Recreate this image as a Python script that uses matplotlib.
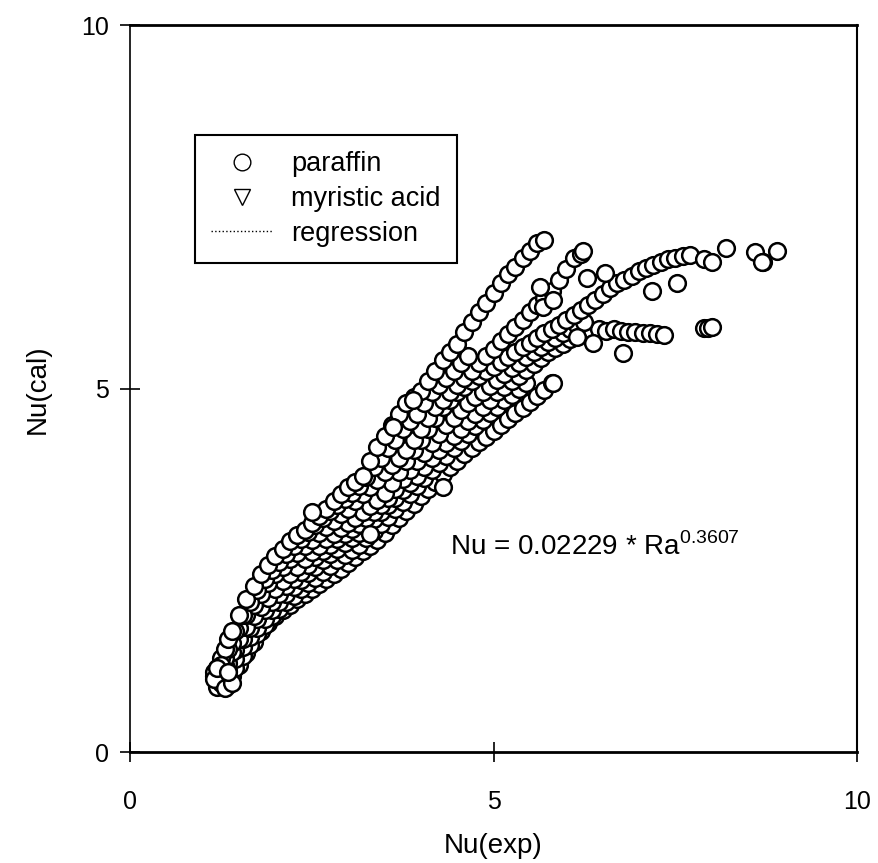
import matplotlib
matplotlib.use('Agg')
import matplotlib.pyplot as plt
from matplotlib.lines import Line2D

plt.rcParams['font.family'] = ['Liberation Sans', 'DejaVu Sans']
plt.rcParams['mathtext.fontset'] = 'custom'
plt.rcParams['mathtext.rm'] = 'Liberation Sans'

# paraffin runs (Nu_exp, Nu_cal)
runA_x = [1.15, 1.2, 1.25, 1.3, 1.35, 1.4, 1.5, 1.6, 1.7, 1.8, 1.9, 2.0, 2.1, 2.2, 2.3, 2.4, 2.5, 2.6, 2.7, 2.8,
          2.9, 3.0, 3.1, 3.2, 3.3, 3.4, 3.5, 3.6, 3.7, 3.8, 3.9, 4.0, 4.1, 4.2, 4.3, 4.4, 4.5, 4.6, 4.7, 4.8,
          4.9, 5.0, 5.1, 5.2, 5.3, 5.4, 5.5, 5.6, 5.7]
runA_y = [1.05, 1.15, 1.3, 1.42, 1.55, 1.66, 1.88, 2.1, 2.28, 2.45, 2.58, 2.7, 2.8, 2.9, 2.98, 3.06, 3.15, 3.25, 3.35, 3.45,
          3.55, 3.65, 3.72, 3.8, 4.0, 4.2, 4.35, 4.5, 4.65, 4.8, 4.88, 4.97, 5.1, 5.25, 5.4, 5.5, 5.62, 5.78, 5.92, 6.06,
          6.18, 6.32, 6.45, 6.58, 6.68, 6.8, 6.9, 7.0, 7.05]

runF_x = [1.25, 1.35, 1.45, 1.55, 1.65, 1.75, 1.85, 1.95, 2.05, 2.15, 2.25, 2.35, 2.45, 2.55, 2.65, 2.75, 2.85, 2.95, 3.05,
          3.15, 3.25, 3.35, 3.45, 3.55, 3.65, 3.75, 3.85, 3.95, 4.05, 4.15, 4.25, 4.35, 4.45, 4.55, 4.65]
runF_y = [1.2, 1.42, 1.66, 1.88, 2.06, 2.23, 2.38, 2.5, 2.62, 2.73, 2.83, 2.93, 3.03, 3.13, 3.22, 3.31, 3.4, 3.48, 3.56,
          3.66, 3.78, 3.92, 4.05, 4.18, 4.3, 4.45, 4.55, 4.65, 4.8, 4.95, 5.05, 5.15, 5.25, 5.35, 5.45]

runB_x = [1.2, 1.3, 1.4, 1.5, 1.6, 1.7, 1.8, 1.9, 2.0, 2.1, 2.2, 2.3, 2.4, 2.5, 2.6, 2.7, 2.8, 2.9, 3.0, 3.1,
          3.2, 3.3, 3.4, 3.5, 3.6, 3.7, 3.8, 3.9, 4.0, 4.1, 4.2, 4.3, 4.4, 4.5, 4.6, 4.7, 4.8, 4.9, 5.0, 5.1,
          5.2, 5.3, 5.4, 5.5, 5.6, 5.7, 5.8, 5.9, 6.0, 6.1, 6.2]
runB_y = [1.1, 1.3, 1.5, 1.7, 1.88, 2.03, 2.18, 2.32, 2.45, 2.55, 2.65, 2.74, 2.83, 2.92, 3.01, 3.1, 3.18, 3.27, 3.35, 3.45,
          3.55, 3.65, 3.75, 3.85, 3.95, 4.05, 4.15, 4.3, 4.45, 4.6, 4.75, 4.85, 4.95, 5.05, 5.15, 5.25, 5.35, 5.45, 5.55, 5.65,
          5.75, 5.85, 5.95, 6.05, 6.15, 6.25, 6.35, 6.5, 6.65, 6.8, 6.85]

runC_x = [1.2, 1.3, 1.4, 1.5, 1.6, 1.7, 1.8, 1.9, 2.0, 2.1, 2.2, 2.3, 2.4, 2.5, 2.6, 2.7, 2.8, 2.9, 3.0, 3.1,
          3.2, 3.3, 3.4, 3.5, 3.6, 3.7, 3.8, 3.9, 4.0, 4.1, 4.2, 4.3, 4.4, 4.5, 4.6, 4.7, 4.8, 4.9, 5.0, 5.1,
          5.2, 5.3, 5.4, 5.5, 5.6, 5.7, 5.8, 5.9, 6.0, 6.1, 6.2, 6.3, 6.4, 6.5, 6.6, 6.7, 6.8, 6.9, 7.0, 7.1,
          7.2, 7.3, 7.4, 7.5, 7.6, 7.7, 7.9, 8.0, 8.2, 8.6, 8.7, 8.9]
runC_y = [1.0, 1.2, 1.38, 1.56, 1.72, 1.87, 2.0, 2.12, 2.24, 2.35, 2.45, 2.55, 2.65, 2.75, 2.84, 2.93, 3.0, 3.08, 3.15, 3.22,
          3.3, 3.38, 3.47, 3.56, 3.7, 3.85, 4.0, 4.15, 4.3, 4.45, 4.6, 4.75, 4.85, 4.95, 5.02, 5.1, 5.17, 5.24, 5.3, 5.37,
          5.44, 5.5, 5.57, 5.63, 5.7, 5.76, 5.82, 5.88, 5.95, 6.02, 6.08, 6.15, 6.22, 6.3, 6.38, 6.45, 6.5, 6.55, 6.62, 6.66,
          6.7, 6.74, 6.78, 6.8, 6.82, 6.84, 6.78, 6.74, 6.93, 6.88, 6.74, 6.9]

runG_x = [1.25, 1.35, 1.45, 1.55, 1.65, 1.75, 1.85, 1.95, 2.05, 2.15, 2.25, 2.35, 2.45, 2.55, 2.65, 2.75, 2.85, 2.95, 3.05,
          3.15, 3.25, 3.35, 3.45, 3.55, 3.65, 3.75, 3.85, 3.95, 4.05, 4.15, 4.25, 4.35, 4.45, 4.55, 4.65, 4.75, 4.85,
          4.95, 5.05, 5.15, 5.25, 5.35, 5.45, 5.55, 5.65, 5.75, 5.85, 5.95, 6.05, 6.15, 6.25]
runG_y = [1.05, 1.22, 1.4, 1.56, 1.7, 1.83, 1.95, 2.06, 2.17, 2.28, 2.38, 2.48, 2.58, 2.68, 2.77, 2.85, 2.93, 3.0, 3.07,
          3.14, 3.22, 3.3, 3.4, 3.5, 3.62, 3.76, 3.88, 4.0, 4.12, 4.25, 4.38, 4.5, 4.6, 4.7, 4.8, 4.88, 4.96,
          5.04, 5.12, 5.2, 5.28, 5.36, 5.43, 5.5, 5.57, 5.64, 5.7, 5.76, 5.82, 5.88, 5.92]

runD_x = [1.25, 1.35, 1.45, 1.55, 1.65, 1.75, 1.85, 1.95, 2.05, 2.15, 2.25, 2.35, 2.45, 2.55, 2.65, 2.75, 2.85, 2.95, 3.05, 3.15,
          3.25, 3.35, 3.45, 3.55, 3.65, 3.75, 3.85, 3.95, 4.05, 4.15, 4.25, 4.35, 4.45, 4.55, 4.65, 4.75, 4.85, 4.95, 5.05, 5.15,
          5.25, 5.35, 5.45, 5.55, 5.65, 5.75, 5.85, 5.95, 6.05, 6.15, 6.25, 6.35, 6.45, 6.55, 6.65, 6.75, 6.85, 6.95, 7.05, 7.15,
          7.25, 7.35, 7.9, 7.95, 8.0]
runD_y = [0.95, 1.12, 1.28, 1.44, 1.58, 1.71, 1.83, 1.95, 2.06, 2.17, 2.27, 2.37, 2.46, 2.55, 2.64, 2.72, 2.8, 2.87, 2.94, 3.01,
          3.1, 3.2, 3.3, 3.4, 3.5, 3.6, 3.7, 3.8, 3.92, 4.05, 4.15, 4.25, 4.35, 4.45, 4.55, 4.65, 4.75, 4.85, 4.95, 5.02,
          5.1, 5.18, 5.26, 5.34, 5.42, 5.5, 5.56, 5.62, 5.68, 5.72, 5.76, 5.8, 5.82, 5.8, 5.82, 5.8, 5.78, 5.78, 5.76, 5.76,
          5.75, 5.74, 5.83, 5.84, 5.85]

runH_x = [1.35, 1.45, 1.55, 1.65, 1.75, 1.85, 1.95, 2.05, 2.15, 2.25, 2.35, 2.45, 2.55, 2.65, 2.75, 2.85, 2.95, 3.05, 3.15,
          3.25, 3.35, 3.45, 3.55, 3.65, 3.75, 3.85, 3.95, 4.05, 4.15, 4.25, 4.35, 4.45, 4.55, 4.65, 4.75, 4.85, 4.95,
          5.05, 5.15, 5.25, 5.35, 5.45]
runH_y = [1.0, 1.16, 1.32, 1.47, 1.62, 1.75, 1.87, 1.97, 2.06, 2.15, 2.24, 2.32, 2.4, 2.48, 2.56, 2.64, 2.71, 2.78, 2.85,
          2.94, 3.04, 3.14, 3.24, 3.34, 3.44, 3.55, 3.66, 3.77, 3.88, 3.98, 4.08, 4.18, 4.28, 4.38, 4.48, 4.57, 4.66,
          4.75, 4.84, 4.92, 5.0, 5.08]

runE_x = [1.3, 1.4, 1.5, 1.6, 1.7, 1.8, 1.9, 2.0, 2.1, 2.2, 2.3, 2.4, 2.5, 2.6, 2.7, 2.8, 2.9, 3.0, 3.1, 3.2,
          3.3, 3.4, 3.5, 3.6, 3.7, 3.8, 3.9, 4.0, 4.1, 4.2, 4.3, 4.4, 4.5, 4.6, 4.7, 4.8, 4.9, 5.0, 5.1, 5.2,
          5.3, 5.4, 5.5, 5.6, 5.7, 5.8]
runE_y = [0.92, 1.05, 1.2, 1.36, 1.52, 1.66, 1.77, 1.87, 1.95, 2.03, 2.1, 2.17, 2.24, 2.31, 2.38, 2.45, 2.52, 2.6, 2.68, 2.76,
          2.84, 2.92, 3.02, 3.12, 3.22, 3.32, 3.42, 3.52, 3.62, 3.72, 3.82, 3.92, 4.0, 4.1, 4.18, 4.26, 4.34, 4.42, 4.5, 4.58,
          4.66, 4.74, 4.82, 4.9, 4.98, 5.08]

# stray points
extra_x = [1.15, 1.2, 1.3, 1.35, 1.2, 1.25, 1.15, 1.3, 1.25, 1.2, 1.4, 1.35, 4.3, 5.82, 6.78, 7.18, 7.52, 6.29, 6.53,
           6.15, 6.37, 8.69, 6.23, 5.64, 5.68, 5.82, 3.3, 2.5, 3.62, 3.89]
extra_y = [1.1, 0.9, 1.0, 0.92, 1.0, 0.95, 1.0, 0.88, 1.2, 1.15, 0.95, 1.1, 3.65, 5.08, 5.49, 6.35, 6.46, 6.52, 6.59,
           5.71, 5.63, 6.74, 6.9, 6.4, 6.12, 6.22, 3.0, 3.3, 4.47, 4.84]

runs = [(runE_x, runE_y), (runH_x, runH_y), (runD_x, runD_y), (runG_x, runG_y), (runC_x, runC_y),
        (runB_x, runB_y), (runF_x, runF_y), (runA_x, runA_y), (extra_x, extra_y)]

fig = plt.figure(figsize=(8.79, 8.63), dpi=100)
ax = fig.add_axes([0.148, 0.1286, 0.827, 0.842])

for xs, ys in runs:
    ax.plot(xs, ys, linestyle='none', marker='o', markersize=12, markerfacecolor='white',
            markeredgecolor='black', markeredgewidth=1.8)

ax.set_xlim(0, 10)
ax.set_ylim(0, 10)
ax.set_xticks([0, 5, 10])
ax.set_yticks([0, 5, 10])
ax.tick_params(direction='inout', length=14, width=1.2, labelsize=18)
ax.tick_params(axis='x', pad=20)
ax.tick_params(axis='y', pad=8)
ax.spines['left'].set_linewidth(1.2)
ax.spines['bottom'].set_linewidth(2)
ax.spines['top'].set_linewidth(2)
ax.spines['right'].set_linewidth(1.5)
ax.set_xlabel('Nu(exp)', fontsize=20, labelpad=14)
ax.set_ylabel('Nu(cal)', fontsize=20, labelpad=22)

ax.text(4.4, 2.82, r'Nu = 0.02229 * Ra$^{\mathrm{0.3607}}$', fontsize=20, va='center', ha='left')

handles = [Line2D([], [], linestyle='none', marker='o', markersize=12, markerfacecolor='white',
                  markeredgecolor='black', markeredgewidth=1),
           Line2D([], [], linestyle='none', marker='v', markersize=12, markerfacecolor='white',
                  markeredgecolor='black', markeredgewidth=1),
           Line2D([], [], linestyle=':', color='black', linewidth=1)]
leg = ax.legend(handles, ['paraffin', 'myristic acid', 'regression'], loc='upper left',
                bbox_to_anchor=(0.089, 0.849), borderaxespad=0, fontsize=19.5, frameon=True,
                fancybox=False, framealpha=1, edgecolor='black', handlelength=2.3,
                handletextpad=0.66, labelspacing=0.32, borderpad=0.6)
leg.get_frame().set_linewidth(1.5)

fig.savefig('out.png', dpi=100)
